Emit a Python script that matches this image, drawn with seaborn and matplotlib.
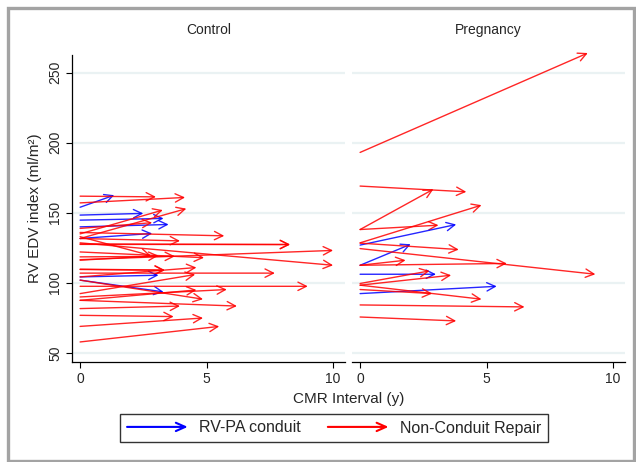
import matplotlib
matplotlib.use("Agg")
import matplotlib.pyplot as plt
import seaborn as sns
import pandas as pd
from matplotlib.patches import FancyArrowPatch, Rectangle
from matplotlib.legend_handler import HandlerBase
from matplotlib.lines import Line2D

# ---------------- data ----------------
# Control group: repair type, RV EDV at baseline, CMR interval (y), RV EDV at follow-up
ctrl_type = ["C", "R", "R", "C", "C", "C", "C", "R", "R", "R", "R", "R", "R", "R",
             "R", "R", "R", "R", "R", "R", "R", "R", "C", "C", "R", "R", "R", "R",
             "R", "R", "R", "R", "R", "R", "R", "R"]
ctrl_v0 = [154.0, 161.9, 157.1, 148.4, 144.8, 140.0, 131.7, 135.0, 131.7, 138.9, 136.0, 131.7,
           127.5, 127.8, 116.6, 128.6, 122.1, 118.6, 133.0, 116.2, 109.6, 109.8, 104.3, 102.0,
           104.3, 107.0, 92.4, 97.6, 90.0, 87.6, 102.0, 81.7, 87.6, 76.9, 69.0, 57.9]
ctrl_t = [1.35, 3.0, 4.15, 2.5, 3.3, 3.5, 2.85, 3.27, 4.2, 2.85, 5.7, 3.95,
          8.3, 8.3, 10.0, 10.0, 4.9, 3.75, 2.8, 3.1, 3.35, 3.35, 3.1, 3.3,
          4.6, 7.7, 4.55, 9.0, 5.8, 4.6, 4.86, 3.95, 6.2, 3.7, 4.86, 5.5]
ctrl_v1 = [162.6, 161.4, 161.0, 149.6, 146.0, 141.7, 135.3, 152.0, 153.0, 143.0, 133.6, 130.0,
           127.4, 127.4, 123.2, 112.6, 118.0, 119.0, 119.5, 119.5, 109.0, 109.2, 105.5, 93.6,
           111.0, 107.0, 106.0, 97.6, 95.3, 95.0, 88.4, 83.5, 83.5, 76.0, 75.0, 69.0]

# Pregnancy group
preg_type = ["R", "R", "R", "R", "R", "C", "C", "R", "R", "R", "R", "C", "R", "R",
             "C", "R", "R", "R", "R"]
preg_v0 = [193.1, 169.1, 138.1, 138.1, 128.6, 127.0, 112.6, 128.4, 124.5, 112.6, 112.6,
           106.2, 99.6, 98.4, 92.4, 95.3, 98.4, 84.3, 75.7]
preg_t = [9.0, 4.2, 2.9, 3.1, 4.8, 3.8, 2.0, 3.9, 9.3, 1.8, 5.8, 3.0, 2.75, 3.6, 5.4, 2.85,
          4.8, 6.5, 3.8]
preg_v1 = [264.0, 165.0, 166.9, 141.2, 155.5, 141.7, 127.6, 123.8, 106.2, 116.2, 113.9,
           106.2, 108.6, 105.5, 97.6, 92.4, 88.4, 82.9, 72.9]

groups = ["Control", "Pregnancy"]
type_labels = {"C": "RV-PA conduit", "R": "Non-Conduit Repair"}
type_colors = {"C": "#0000ff", "R": "#ff0000"}
x_ticks = [0, 5, 10]
y_ticks = [50, 100, 150, 200, 250]

df = pd.concat([
    pd.DataFrame({"group": groups[0], "type": ctrl_type, "v0": ctrl_v0, "t": ctrl_t, "v1": ctrl_v1}),
    pd.DataFrame({"group": groups[1], "type": preg_type, "v0": preg_v0, "t": preg_t, "v1": preg_v1}),
], ignore_index=True)

# ---------------- style ----------------
sns.set_style("white")
plt.rcParams["font.family"] = ["Liberation Sans", "DejaVu Sans"]

W, H = 636, 462
g = sns.FacetGrid(df, col="group", col_order=groups, sharex=True, sharey=True,
                  height=4, aspect=0.7, despine=False)


def draw_arrows(data, **kw):
    ax = plt.gca()
    for _, r in data.iterrows():
        ax.annotate("", xy=(r["t"], r["v1"]), xytext=(0, r["v0"]),
                    xycoords="data", textcoords="data", annotation_clip=False,
                    arrowprops=dict(arrowstyle="->", color=type_colors[r["type"]],
                                    lw=1.0, alpha=0.85, shrinkA=0, shrinkB=0,
                                    mutation_scale=15))


g.map_dataframe(draw_arrows)

fig = g.figure
fig.set_size_inches(W / 100, H / 100)
fig.set_dpi(100)
ax_l, ax_r = g.axes.flat
left, right, top, bottom = 72 / W, 625 / W, 1 - 55 / H, 1 - 362 / H
fig.subplots_adjust(left=left, right=right, top=top, bottom=bottom, wspace=7 / 273)

for ax, name in zip(g.axes.flat, groups):
    ax.set_xlim(-0.32, 10.47)
    ax.set_ylim(43.6, 262.6)
    ax.set_xticks(x_ticks)
    ax.set_yticks(y_ticks)
    ax.set_xlabel("")
    ax.set_ylabel("")
    ax.set_title(name, fontsize=10, pad=15)
    ax.yaxis.grid(True, color="#eaf2f3", lw=1.6)
    ax.xaxis.grid(False)
    ax.set_axisbelow(True)
    for s in ["top", "right"]:
        ax.spines[s].set_visible(False)
    ax.spines["bottom"].set_color("black")
    ax.spines["bottom"].set_linewidth(0.9)
    ax.spines["left"].set_color("black")
    ax.spines["left"].set_linewidth(0.9)
    ax.tick_params(axis="x", direction="out", length=4, width=0.8, color="black",
                   labelsize=10, pad=3, bottom=True)
    ax.tick_params(axis="y", direction="out", length=4, width=0.8, color="black",
                   labelsize=10, pad=3, left=True)

for lab in ax_l.get_yticklabels():
    lab.set_rotation(90)
    lab.set_va("center")

ax_r.spines["left"].set_visible(False)
ax_r.tick_params(axis="y", left=False, labelleft=False)

fig.text(((72 + 625) / 2) / W, 1 - 399 / H, "CMR Interval (y)", ha="center", va="center",
         fontsize=11)
fig.text(35 / W, 1 - 208 / H, "RV EDV index (ml/m²)", ha="center", va="center",
         rotation=90, fontsize=11)


class ArrowHandler(HandlerBase):
    def create_artists(self, legend, orig_handle, xdescent, ydescent, width, height,
                       fontsize, trans):
        y = height / 2 - ydescent
        p = FancyArrowPatch((-xdescent, y), (-xdescent + width, y),
                            arrowstyle="->,head_length=0.45,head_width=0.2",
                            color=orig_handle.get_color(), lw=1.5,
                            mutation_scale=fontsize * 1.3, transform=trans,
                            shrinkA=0, shrinkB=0)
        return [p]


handles = [Line2D([], [], color=type_colors[k], label=type_labels[k]) for k in ["C", "R"]]
leg = fig.legend(handles=handles, loc="center", ncol=2,
                 bbox_to_anchor=(334 / W, 1 - 428 / H), fontsize=11.5,
                 handler_map={Line2D: ArrowHandler()}, handlelength=3.8,
                 handletextpad=0.7, columnspacing=1.7, frameon=True, fancybox=False,
                 borderpad=0.42, borderaxespad=0)
leg.get_frame().set_edgecolor("black")
leg.get_frame().set_linewidth(1.0)

fig.patches.append(Rectangle((8 / W, 1 - 460.5 / H), (634 - 8) / W, (460.5 - 7.5) / H,
                             transform=fig.transFigure, fill=False,
                             edgecolor="#a3a3a3", lw=2.4, zorder=0))

fig.savefig("out.png", dpi=100)
